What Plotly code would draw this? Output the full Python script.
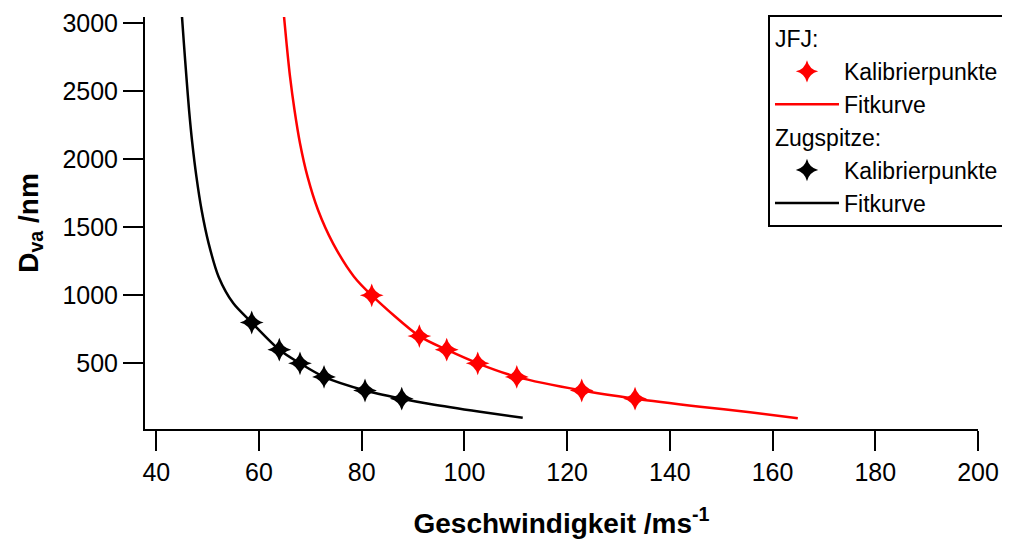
import plotly.graph_objects as go

# Calibration points (velocity m/s, Dva nm)
jfj_v = [81.95, 91.22, 96.55, 102.59, 110.19, 122.84, 133.22]
jfj_d = [1000, 700, 600, 500, 400, 300, 240]
zug_v = [58.58, 63.95, 67.98, 72.66, 80.64, 87.79]
zug_d = [800, 600, 500, 400, 300, 240]

# Fit curves
jfj_fit_v = [64.87, 65.36, 66.04, 66.91, 67.98, 69.45, 71.49, 74.41, 78.50,
             81.95, 91.22, 96.55, 102.59, 110.19, 122.84, 133.22, 145.88, 155.61, 164.91]
jfj_fit_d = [3049, 2853, 2607, 2362, 2118, 1872, 1627, 1382, 1137,
             1000, 700, 600, 500, 400, 300, 240, 181, 140, 96]
zug_fit_v = [45.00, 45.37, 45.86, 46.38, 47.01, 47.81, 48.82, 50.19, 52.13, 55.00,
             58.58, 63.95, 67.98, 72.66, 80.64, 87.79, 93.3, 103.05, 111.35]
zug_fit_d = [3049, 2853, 2607, 2362, 2118, 1872, 1627, 1382, 1137, 941,
             800, 600, 500, 400, 300, 240, 201, 144, 100]

x_ticks = [40, 60, 80, 100, 120, 140, 160, 180, 200]
y_ticks = [500, 1000, 1500, 2000, 2500, 3000]

FONT = "Liberation Sans, Arial, sans-serif"

fig = go.Figure()
# lines first (drawn underneath), markers afterwards
fig.add_trace(go.Scatter(
    x=jfj_fit_v, y=jfj_fit_d, mode="lines", name="Fitkurve",
    line=dict(color="#ff0000", width=2.5, shape="spline", smoothing=0.8),
    legendgroup="jfj", legendgrouptitle_text="JFJ:", legendrank=2))
fig.add_trace(go.Scatter(
    x=zug_fit_v, y=zug_fit_d, mode="lines", name="Fitkurve",
    line=dict(color="#000000", width=2.5, shape="spline", smoothing=0.8),
    legendgroup="zug", legendgrouptitle_text="Zugspitze:", legendrank=4))
fig.add_trace(go.Scatter(
    x=jfj_v, y=jfj_d, mode="markers", name="Kalibrierpunkte",
    marker=dict(symbol="star-diamond", size=17, color="#ff0000", line=dict(width=0)),
    legendgroup="jfj", legendrank=1))
fig.add_trace(go.Scatter(
    x=zug_v, y=zug_d, mode="markers", name="Kalibrierpunkte",
    marker=dict(symbol="star-diamond", size=17, color="#000000", line=dict(width=0)),
    legendgroup="zug", legendrank=3))

fig.update_layout(
    width=1002, height=537,
    margin=dict(l=137, r=32, t=9, b=116, autoexpand=False),
    paper_bgcolor="white", plot_bgcolor="white",
    font=dict(family=FONT, size=24, color="black"),
    showlegend=True,
    legend=dict(
        x=1.0324, xanchor="right", y=1.0049, yanchor="top",
        bordercolor="black", borderwidth=2, bgcolor="white",
        font=dict(family=FONT, size=23, color="black"),
        grouptitlefont=dict(family=FONT, size=23, color="black"),
        tracegroupgap=0, itemwidth=64, traceorder="grouped",
    ),
    xaxis=dict(
        range=[37.8, 200], tickvals=x_ticks, ticktext=[str(v) for v in x_ticks],
        showline=True, linecolor="black", linewidth=2, mirror=False,
        ticks="outside", ticklen=20, tickwidth=2, tickcolor="black",
        showgrid=False, zeroline=False, automargin=False,
        tickfont=dict(family=FONT, size=25),
        title=dict(text="<b>Geschwindigkeit /ms<sup>-1</sup></b>",
                   font=dict(family=FONT, size=28), standoff=28),
    ),
    yaxis=dict(
        range=[17, 3046], tickvals=y_ticks, ticktext=[str(v) for v in y_ticks],
        showline=True, linecolor="black", linewidth=2, mirror=False,
        ticks="outside", ticklen=20, tickwidth=2, tickcolor="black",
        showgrid=False, zeroline=False, automargin=False,
        tickfont=dict(family=FONT, size=25),
        title=dict(text="<b>D<sub>va</sub> /nm</b>",
                   font=dict(family=FONT, size=28), standoff=16),
    ),
)

fig.write_html("out.html")
